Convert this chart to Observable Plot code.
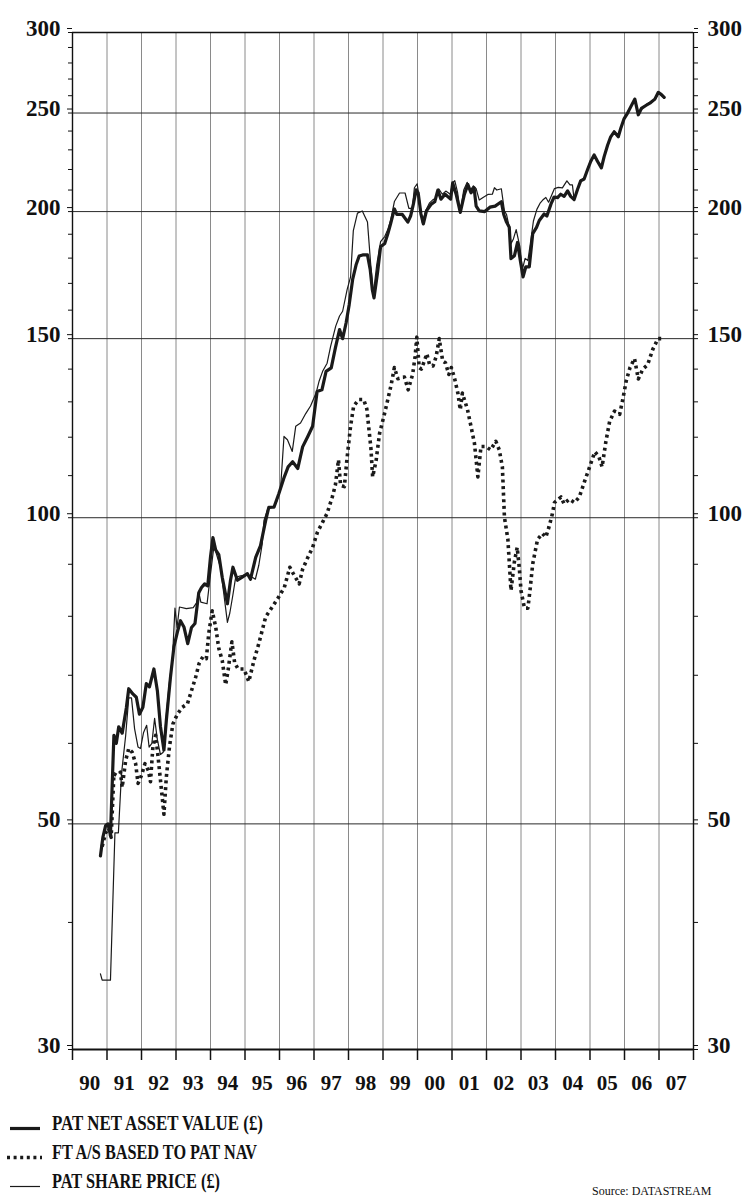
<!DOCTYPE html>
<html><head><meta charset="utf-8">
<script src="https://cdn.jsdelivr.net/npm/d3@7"></script>
<script src="https://cdn.jsdelivr.net/npm/@observablehq/plot@0.6"></script>
<style>
body{margin:0;background:#fff;}
#wrap{width:744px;height:1197px;overflow:hidden;background:#fff;}
svg{display:block;}
</style></head><body><div id="wrap"></div>
<script>
// PAT net asset value (£) – decimal year / value
const navT=[1990.81,1990.88,1990.96,1991.03,1991.10,1991.20,1991.27,1991.34,1991.44,1991.56,1991.63,1991.75,1991.85,1991.94,1992.04,1992.14,1992.23,1992.36,1992.46,1992.55,1992.65,1992.72,1992.84,1992.94,1993.04,1993.13,1993.23,1993.34,1993.45,1993.55,1993.66,1993.74,1993.83,1993.92,1994.00,1994.07,1994.15,1994.24,1994.34,1994.49,1994.58,1994.65,1994.78,1994.92,1995.07,1995.16,1995.31,1995.45,1995.60,1995.69,1995.84,1995.98,1996.14,1996.25,1996.38,1996.53,1996.67,1996.82,1996.96,1997.09,1997.23,1997.35,1997.50,1997.62,1997.74,1997.83,1997.93,1998.02,1998.12,1998.22,1998.31,1998.41,1998.55,1998.63,1998.69,1998.74,1998.84,1998.93,1999.05,1999.14,1999.22,1999.33,1999.40,1999.56,1999.72,1999.80,1999.88,1999.96,2000.02,2000.10,2000.17,2000.26,2000.40,2000.50,2000.59,2000.68,2000.80,2000.96,2001.02,2001.12,2001.24,2001.36,2001.46,2001.55,2001.64,2001.70,2001.79,2001.95,2002.10,2002.25,2002.43,2002.50,2002.58,2002.66,2002.71,2002.81,2002.90,2002.98,2003.06,2003.14,2003.24,2003.34,2003.45,2003.53,2003.67,2003.75,2003.87,2003.96,2004.06,2004.15,2004.25,2004.35,2004.44,2004.54,2004.64,2004.73,2004.83,2004.93,2005.02,2005.12,2005.22,2005.33,2005.41,2005.51,2005.60,2005.70,2005.82,2005.89,2005.99,2006.09,2006.18,2006.30,2006.40,2006.49,2006.62,2006.76,2006.88,2006.98,2007.05,2007.15];
const navV=[46.5,48.5,49.8,50.0,48.7,61.1,60.0,62.3,61.4,65.0,67.9,67.1,66.6,64.1,65.1,68.7,68.2,71.0,67.6,62.3,59.1,63.2,69.7,74.7,77.2,79.2,78.1,75.2,78.0,78.7,84.4,85.4,86.1,85.7,91.5,95.6,93.0,92.0,87.4,82.3,86.8,89.4,86.8,87.4,88.1,87.0,91.4,93.9,99.4,102.4,102.4,105.6,109.7,112.2,113.5,111.8,117.4,120.2,123.0,133.1,133.6,139.3,140.4,146.9,153.1,150.0,155.4,162.0,171.5,177.3,180.9,181.3,181.3,175.3,167.6,164.5,174.0,184.7,186.1,190.2,194.5,201.2,198.7,198.7,195.3,198.0,203.4,210.1,208.6,198.9,194.5,200.3,203.4,204.5,210.0,205.7,208.0,205.7,213.4,208.0,199.6,208.0,212.6,208.7,211.0,202.5,200.3,200.0,202.0,202.5,204.5,198.7,195.3,193.0,179.8,181.0,186.5,179.0,172.5,176.5,176.5,190.3,193.0,196.0,198.9,198.0,203.5,206.7,206.4,208.0,207.0,209.6,207.0,205.5,210.4,214.4,215.3,220.0,224.0,227.4,224.0,220.8,226.5,232.4,236.9,239.6,236.9,241.4,246.9,250.0,253.5,258.0,249.0,252.6,254.3,256.0,258.0,262.0,261.0,259.0];

// PAT share price (£)
const spT=[1990.81,1990.86,1991.10,1991.23,1991.33,1991.42,1991.54,1991.63,1991.71,1991.80,1991.90,1991.97,1992.06,1992.15,1992.22,1992.30,1992.38,1992.46,1992.55,1992.63,1992.72,1992.80,1992.90,1992.97,1993.03,1993.10,1993.30,1993.50,1993.60,1993.66,1993.72,1993.90,1994.00,1994.10,1994.29,1994.38,1994.49,1994.56,1994.65,1994.73,1994.90,1995.05,1995.21,1995.30,1995.40,1995.50,1995.55,1995.66,1995.84,1995.93,1996.03,1996.13,1996.23,1996.37,1996.47,1996.61,1996.76,1996.90,1997.06,1997.15,1997.25,1997.38,1997.48,1997.63,1997.74,1997.83,1997.96,1998.06,1998.14,1998.26,1998.40,1998.55,1998.64,1998.72,1998.82,1998.93,1999.05,1999.14,1999.22,1999.33,1999.48,1999.64,1999.75,1999.85,1999.91,1999.99,2000.06,2000.14,2000.24,2000.35,2000.45,2000.53,2000.62,2000.72,2000.82,2000.95,2001.02,2001.08,2001.16,2001.24,2001.34,2001.44,2001.53,2001.62,2001.70,2001.79,2001.90,2002.04,2002.17,2002.23,2002.30,2002.43,2002.52,2002.58,2002.66,2002.71,2002.78,2002.86,2002.97,2003.04,2003.12,2003.20,2003.27,2003.36,2003.46,2003.56,2003.63,2003.72,2003.80,2003.90,2003.97,2004.08,2004.20,2004.33,2004.42,2004.49,2004.54,2004.64,2004.73,2004.83,2004.93,2005.02,2005.12,2005.22,2005.33,2005.41,2005.51,2005.60,2005.70,2005.82,2005.89,2005.99,2006.09,2006.18,2006.30,2006.40,2006.49,2006.62,2006.76,2006.88,2006.98,2007.05,2007.15];
const spV=[35.6,35.1,35.1,49.0,49.0,56.0,61.0,66.5,66.5,62.0,59.5,59.3,61.5,62.5,59.5,60.0,63.5,60.5,58.5,58.8,64.0,68.5,73.0,81.5,78.0,81.7,81.4,81.6,82.5,84.5,82.6,82.3,88.0,93.8,89.4,84.5,78.9,80.6,84.0,87.4,87.7,88.0,87.4,87.0,89.8,94.3,99.4,102.0,102.5,104.0,106.8,120.2,119.3,116.2,123.0,123.9,126.6,128.8,132.6,136.3,139.3,141.9,147.3,154.3,157.9,159.6,167.6,172.5,191.6,199.3,200.3,195.3,178.1,166.0,177.5,186.8,189.0,192.0,196.0,204.6,208.6,208.6,201.5,201.5,211.1,213.0,205.0,195.0,200.5,204.0,205.5,206.0,210.5,208.0,209.5,208.0,213.5,214.5,209.0,200.0,210.0,213.7,210.0,212.0,210.7,205.3,206.5,207.9,208.0,211.1,210.0,210.6,200.3,198.7,193.0,186.0,188.0,192.0,184.5,175.5,179.9,179.0,185.9,195.8,201.0,204.0,205.3,206.5,204.3,208.0,210.7,211.3,211.0,214.4,212.5,212.5,205.5,210.6,214.8,215.5,220.5,224.5,227.0,224.5,221.0,226.0,232.8,237.0,240.0,237.5,241.0,247.0,250.5,253.0,258.5,249.5,252.0,254.8,256.5,257.5,261.5,261.0,258.5];

// FT A/S based to PAT NAV
const ftT=[1990.86,1990.96,1991.05,1991.12,1991.20,1991.28,1991.39,1991.44,1991.54,1991.63,1991.73,1991.83,1991.90,1992.00,1992.10,1992.20,1992.26,1992.33,1992.41,1992.48,1992.55,1992.65,1992.72,1992.81,1992.91,1993.04,1993.18,1993.33,1993.42,1993.57,1993.67,1993.78,1993.88,1993.95,1994.05,1994.15,1994.24,1994.34,1994.44,1994.51,1994.62,1994.70,1994.80,1994.97,1995.11,1995.26,1995.40,1995.60,1995.79,1995.98,1996.14,1996.30,1996.40,1996.57,1996.67,1996.82,1996.96,1997.10,1997.25,1997.38,1997.53,1997.62,1997.71,1997.77,1997.88,1997.96,1998.06,1998.15,1998.30,1998.44,1998.53,1998.60,1998.65,1998.70,1998.80,1998.90,1999.04,1999.14,1999.24,1999.33,1999.43,1999.53,1999.62,1999.73,1999.86,1999.93,1999.98,2000.05,2000.11,2000.20,2000.27,2000.35,2000.45,2000.54,2000.63,2000.73,2000.81,2000.91,2000.98,2001.07,2001.17,2001.24,2001.30,2001.38,2001.45,2001.55,2001.65,2001.75,2001.84,2001.98,2002.12,2002.27,2002.37,2002.46,2002.52,2002.62,2002.71,2002.81,2002.89,2002.95,2003.00,2003.10,2003.20,2003.26,2003.34,2003.48,2003.62,2003.72,2003.81,2003.91,2003.97,2004.16,2004.25,2004.40,2004.55,2004.69,2004.84,2004.99,2005.14,2005.25,2005.35,2005.46,2005.57,2005.71,2005.86,2005.95,2006.05,2006.16,2006.29,2006.40,2006.53,2006.67,2006.82,2006.97,2007.11];
const ftV=[47.5,49.0,49.5,48.5,56.0,55.8,56.2,54.3,57.7,59.3,58.8,57.3,54.8,55.8,57.3,56.4,55.0,59.5,61.1,58.2,55.2,51.1,55.6,59.5,62.7,64.1,65.1,65.6,67.1,69.7,71.9,73.0,72.7,77.0,81.0,78.1,74.4,72.4,68.5,70.8,75.5,72.0,71.0,71.0,69.0,72.4,75.2,79.9,81.7,83.6,85.4,89.4,88.1,86.1,89.0,91.4,93.5,96.8,99.0,101.0,104.8,107.7,114.0,107.6,107.3,114.6,123.0,128.8,130.7,130.7,128.0,121.5,117.0,109.7,113.8,121.0,126.4,130.7,135.3,140.5,137.0,137.3,137.5,133.6,138.4,144.0,150.5,140.5,140.0,142.6,145.0,141.4,141.0,144.0,150.0,142.6,142.0,138.3,140.5,137.3,132.6,127.7,132.6,130.0,127.7,123.0,118.4,109.7,117.5,117.5,116.6,118.9,116.6,112.2,100.1,95.2,84.8,90.6,93.5,89.3,84.8,81.5,81.5,84.8,90.1,95.2,96.5,95.7,97.9,100.9,103.5,104.8,103.2,104.3,103.5,104.8,108.5,112.2,116.1,115.0,112.2,118.8,124.4,127.3,126.4,130.7,136.3,140.5,143.4,136.9,140.0,141.4,146.4,150.0,150.0];

// axis tick values and labels
const yearTicks=[1990,1991,1992,1993,1994,1995,1996,1997,1998,1999,2000,2001,2002,2003,2004,2005,2006,2007,2008];
const yearLabels=["90","91","92","93","94","95","96","97","98","99","00","01","02","03","04","05","06","07"];
const yLabeled=[30,50,100,150,200,250,300];
const yMinor=[30,40,50,60,70,80,90,100,110,120,130,140,150,160,170,180,190,200,210,220,230,240,250,260,270,280,290,300];
const gridY=[50,100,150,200,250];
const gridX=[1991,1992,1993,1994,1995,1996,1997,1998,1999,2000,2001,2002,2003,2004,2005,2006,2007];

const rows=(T,V)=>T.map((t,i)=>({t,v:V[i]}));
const labelPos=yearLabels.map((d,i)=>yearTicks[i]+0.5);

const font="'Liberation Serif','Times New Roman',serif";
const chart=Plot.plot({
  width:744,height:1100,marginTop:32,marginBottom:51,marginLeft:72,marginRight:51,
  style:{fontFamily:font,fontWeight:"bold",fontSize:"22px",background:"#fff",color:"#111",overflow:"visible"},
  x:{domain:[1990,2008],axis:null,label:null},
  y:{type:"log",domain:[30,300],axis:null,label:null},
  marks:[
    Plot.ruleX(gridX,{stroke:"#8a8a8a",strokeWidth:1}),
    Plot.ruleY(gridY,{stroke:"#2a2a2a",strokeWidth:1}),
    Plot.ruleY([300],{stroke:"#111",strokeWidth:1.3}),
    Plot.ruleX([1990,2008],{stroke:"#111",strokeWidth:1.4}),
    Plot.axisY(yMinor,{anchor:"left",label:null,tickSize:4,tickFormat:()=>"",strokeWidth:1}),
    Plot.axisY(yMinor,{anchor:"right",label:null,tickSize:4,tickFormat:()=>"",strokeWidth:1}),
    Plot.axisY(yLabeled,{anchor:"left",label:null,tickSize:5,tickPadding:7,dy:-4,fontSize:23,fontWeight:"bold",tickFormat:d=>String(d),strokeWidth:1}),
    Plot.axisY(yLabeled,{anchor:"right",label:null,tickSize:4,tickPadding:10,dy:-4,fontSize:23,fontWeight:"bold",tickFormat:d=>String(d),strokeWidth:1}),
    Plot.axisX(yearTicks,{anchor:"bottom",label:null,tickSize:11,tickFormat:()=>"",strokeWidth:1.5}),
    Plot.axisX(labelPos,{anchor:"bottom",label:null,tickSize:0,tickPadding:26,fontSize:21,fontWeight:"bold",tickFormat:d=>yearLabels[Math.floor(d)-1990]}),
    Plot.ruleY([30],{stroke:"#111",strokeWidth:2}),
    Plot.line(rows(ftT,ftV),{x:"t",y:"v",stroke:"#1a1a1a",strokeWidth:3.6,strokeDasharray:"3,3.6",strokeLinecap:"butt",curve:"linear"}),
    Plot.line(rows(navT,navV),{x:"t",y:"v",stroke:"#1a1a1a",strokeWidth:3.2,strokeLinejoin:"round"}),
    Plot.line(rows(spT,spV),{x:"t",y:"v",stroke:"#1a1a1a",strokeWidth:1.2,strokeLinejoin:"round"})
  ]
});
const wrap=document.getElementById("wrap");
wrap.appendChild(chart);

// legend below the chart
const legendItems=[
  {label:"PAT NET ASSET VALUE (£)",width:3.2,dash:null,len:211},
  {label:"FT A/S BASED TO PAT NAV",width:3.6,dash:"3,3.6",len:205},
  {label:"PAT SHARE PRICE (£)",width:1.2,dash:null,len:168}
];
const leg=d3.create("svg").attr("width",744).attr("height",97).style("font-family",font);
legendItems.forEach((d,i)=>{
  const yb=30+i*29;
  const ln=leg.append("line").attr("x1",d.dash?7:10).attr("x2",d.dash?42:40).attr("y1",yb-1.5).attr("y2",yb-1.5)
    .attr("stroke","#1a1a1a").attr("stroke-width",d.width);
  if(d.dash) ln.attr("stroke-dasharray",d.dash);
  leg.append("text").attr("x",52).attr("y",yb).attr("font-size",21).attr("font-weight","bold").attr("fill","#111")
    .attr("textLength",d.len).attr("lengthAdjust","spacingAndGlyphs").text(d.label);
});
leg.append("text").attr("x",592).attr("y",95).attr("font-size",12).attr("fill","#111").text("Source: DATASTREAM");
wrap.appendChild(leg.node());
</script></body></html>
